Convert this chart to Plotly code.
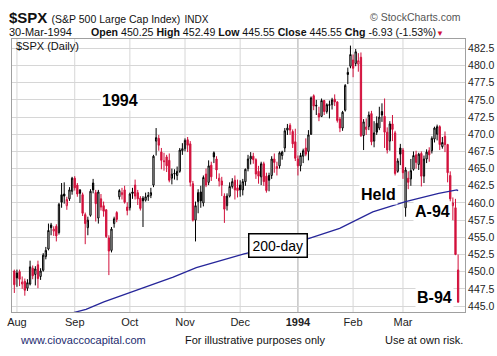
import pandas as pd
import plotly.graph_objects as go

# ---------------- data ----------------
holidays = ["1993-09-06", "1993-11-25", "1993-12-24", "1994-02-21"]
dates = [d for d in pd.bdate_range("1993-07-30", "1994-03-30")
         if d.strftime("%Y-%m-%d") not in holidays]

open_ = [450.1,
         # Aug
         449.8, 450.0, 448.2, 448.6, 447.6, 448.2, 450.5, 449.6, 451.0, 449.3, 450.2,
         452.2, 453.3, 456.8, 455.9, 456.6, 455.7, 461.2, 461.3, 459.6, 460.6, 461.7,
         # Sep
         463.6, 462.6, 461.9, 461.2, 458.3, 456.4, 458.2, 462.9, 461.5, 457.8, 460.6,
         459.6, 459.0, 454.9, 453.1, 457.0, 458.6, 460.9, 461.2, 461.9, 459.4,
         # Oct
         459.3, 461.6, 462.6, 461.5, 460.7, 460.7, 460.4, 460.9, 461.1, 462.6, 469.0,
         469.4, 467.4, 466.0, 466.7, 466.2, 463.6, 464.2, 464.0, 464.6, 467.6,
         # Nov
         467.9, 469.2, 468.6, 462.8, 457.5, 461.5, 461.6, 460.0, 464.2, 463.0, 465.5,
         467.3, 466.4, 463.2, 463.2, 461.0, 459.6, 461.0, 462.4, 463.3, 462.2,
         # Dec
         462.6, 461.9, 463.1, 465.0, 466.4, 466.8, 466.3, 464.6, 463.8, 465.7, 463.9,
         464.0, 464.0, 466.4, 465.0, 465.4, 466.9, 468.0, 470.6, 471.3, 470.4, 468.9,
         # Jan
         466.4, 465.4, 466.8, 468.0, 467.5, 470.0, 475.6, 474.1, 473.0, 472.6, 474.9,
         473.3, 474.2, 474.3, 475.1, 474.7, 472.2, 470.9, 473.5, 479.0, 479.9,
         # Feb
         480.8, 480.3, 480.2, 481.2, 469.8, 470.7, 471.1, 473.0, 469.0, 471.6, 470.9,
         473.3, 472.6, 470.3, 469.0, 471.5, 470.2, 464.6, 468.0,
         # Mar
         467.7, 459.3, 463.6, 463.5, 464.9, 467.0, 465.6, 467.2, 463.9, 466.4, 467.6,
         467.6, 469.3, 470.0, 471.1, 468.2, 469.7, 468.5, 464.0, 459.6, 459.3, 450.25]

high = [450.3,
        450.3, 450.3, 449.3, 449.0, 448.9, 451.6, 450.9, 450.8, 451.6, 450.5, 452.7,
        453.6, 457.0, 457.1, 456.6, 456.9, 460.0, 462.9, 463.0, 460.9, 462.3, 463.8,
        463.9, 462.9, 462.0, 461.5, 458.6, 458.0, 462.0, 463.5, 461.9, 461.9, 461.3,
        460.2, 459.1, 455.3, 456.5, 458.0, 458.8, 462.0, 462.2, 462.5, 460.1,
        461.5, 462.2, 463.4, 461.9, 461.0, 461.0, 461.5, 461.6, 462.2, 467.0, 470.9,
        469.9, 468.0, 467.3, 467.0, 467.2, 465.0, 464.9, 465.3, 468.0, 468.7,
        469.4, 469.6, 469.0, 463.2, 460.2, 462.0, 462.5, 464.0, 465.0, 466.2, 466.0,
        467.5, 466.8, 464.3, 463.8, 461.4, 461.4, 463.0, 463.6, 464.0, 463.4,
        463.3, 463.5, 465.0, 467.0, 467.4, 467.3, 466.5, 465.4, 466.0, 466.0, 464.4,
        464.4, 466.8, 467.2, 466.0, 467.5, 467.6, 470.9, 471.5, 471.6, 470.7, 470.8,
        466.9, 467.3, 467.9, 469.4, 470.6, 475.5, 475.8, 475.0, 474.0, 475.2, 475.0,
        474.5, 474.9, 475.3, 475.8, 474.8, 472.5, 473.4, 477.3, 479.7, 482.9,
        481.6, 482.4, 481.8, 481.9, 472.2, 472.3, 473.3, 473.4, 471.9, 472.6, 474.0,
        474.5, 475.2, 471.0, 471.9, 472.8, 470.5, 466.5, 468.6,
        468.0, 465.2, 464.6, 466.4, 467.5, 467.6, 467.3, 467.5, 466.9, 467.8, 468.1,
        469.7, 471.1, 471.4, 471.3, 469.6, 470.4, 468.6, 464.6, 460.8, 460.6, 452.49]

low = [446.9,
       447.8, 447.9, 447.5, 446.5, 447.2, 448.0, 448.9, 448.0, 447.6, 448.8, 450.0,
       451.8, 453.1, 455.3, 455.2, 454.4, 455.4, 459.3, 459.9, 459.0, 460.3, 461.2,
       461.8, 460.9, 460.0, 458.1, 454.0, 455.3, 458.0, 461.4, 457.3, 457.0, 458.9,
       458.0, 454.9, 449.5, 452.8, 456.4, 457.2, 460.5, 460.5, 459.9, 458.2,
       458.9, 460.6, 460.5, 459.7, 458.9, 456.5, 460.2, 460.3, 460.7, 462.3, 466.9,
       467.6, 464.9, 464.7, 464.5, 463.0, 462.7, 463.4, 463.3, 464.4, 467.0,
       467.5, 467.4, 462.4, 457.3, 454.4, 458.5, 459.3, 459.5, 462.3, 462.6, 463.2,
       465.8, 463.5, 462.4, 461.0, 457.1, 458.9, 460.8, 462.1, 460.5, 460.8,
       460.9, 461.1, 462.5, 464.6, 465.6, 465.7, 463.5, 462.8, 462.6, 462.5, 461.5,
       461.7, 463.5, 464.4, 464.0, 465.0, 466.3, 467.4, 469.9, 469.9, 468.0, 466.1,
       464.0, 464.6, 465.8, 466.8, 466.2, 469.9, 473.5, 472.8, 471.9, 472.5, 472.8,
       473.0, 472.3, 473.6, 474.1, 471.7, 470.3, 470.5, 473.3, 477.3, 479.6,
       478.3, 479.9, 479.1, 469.6, 467.7, 469.9, 470.6, 468.4, 468.1, 469.9, 470.6,
       471.8, 468.0, 467.2, 467.6, 469.0, 464.0, 464.4, 465.5,
       463.5, 458.0, 462.0, 462.5, 464.7, 465.0, 464.8, 462.4, 462.9, 465.8, 466.0,
       467.2, 468.8, 469.1, 467.7, 467.9, 467.4, 463.0, 460.2, 457.5, 452.4, 445.55]

close = [448.1,
         449.1, 448.9, 448.5, 447.3, 448.4, 450.7, 449.4, 450.4, 449.0, 450.1, 452.4,
         453.1, 456.0, 456.4, 456.2, 455.2, 459.8, 460.1, 461.0, 460.5, 461.9, 463.6,
         462.2, 461.3, 461.4, 458.5, 457.0, 457.5, 461.7, 461.9, 459.9, 461.6, 459.4,
         458.8, 455.1, 453.0, 456.2, 457.7, 457.6, 461.8, 461.5, 460.1, 458.9,
         461.3, 461.4, 461.0, 460.6, 459.2, 460.3, 460.9, 461.1, 461.5, 466.8, 469.5,
         468.4, 466.2, 466.1, 465.4, 463.3, 464.2, 464.3, 464.6, 467.7, 467.9,
         469.1, 468.4, 463.0, 457.5, 459.6, 460.2, 460.3, 463.7, 462.6, 465.4, 463.8,
         466.7, 464.8, 463.6, 462.6, 459.1, 461.0, 462.4, 463.1, 461.9, 461.8,
         461.9, 463.1, 464.9, 466.4, 466.8, 466.3, 464.2, 463.9, 465.7, 463.1, 461.8,
         463.3, 466.4, 465.9, 465.3, 467.3, 467.4, 470.5, 470.9, 470.6, 468.6, 466.5,
         465.4, 466.9, 467.6, 467.1, 469.9, 475.3, 474.1, 474.2, 472.5, 474.9, 473.3,
         474.3, 474.3, 475.0, 474.7, 472.0, 470.9, 473.2, 477.1, 478.7, 481.6,
         479.6, 482.0, 480.7, 469.8, 471.8, 471.05, 472.8, 468.9, 470.2, 470.3, 472.5,
         472.8, 470.3, 467.7, 471.5, 470.7, 464.3, 466.1, 467.1,
         464.4, 464.8, 463.0, 464.7, 466.9, 465.9, 467.1, 463.9, 466.4, 467.4, 467.0,
         469.4, 470.9, 471.1, 468.5, 468.8, 468.5, 464.4, 460.6, 460.0, 452.5, 445.55]

# 200-day moving average, read at a few bar positions
ma_pos = [19, 27.3, 34.1, 46.7, 56.7, 60.5, 69.3, 87.5, 112, 123.9, 136.5, 149, 161.6, 168.5, 169]
ma_val = [443.7, 444.5, 445.6, 447.3, 448.6, 449.2, 450.6, 452.6, 454.8, 456.3, 458.7, 460.2, 461.4, 461.9, 461.8]

month_labels = ["Aug", "Sep", "Oct", "Nov", "Dec", "<b>1994</b>", "Feb", "Mar"]
y_ticks = [445.0 + 2.5 * k for k in range(16)]

# ---------------- geometry ----------------
FW, FH = 497, 356
PL, PR, PT, PB = 7, 465, 39, 312
def fx(x):
    return (x - PL) / (PR - PL)
def fy(y):
    return (PB - y) / (PB - PT)

RED = "#d2113c"
FONT = "Liberation Sans, Arial, sans-serif"

n = len(close)
idx = list(range(n))
prev = [open_[0]] + close[:-1]
up = [c >= p for c, p in zip(close, prev)]

def sub(arr, flag):
    return [a for a, u in zip(arr, up) if u == flag]

fig = go.Figure()
fig.add_trace(go.Candlestick(
    x=sub(idx, True), open=sub(open_, True), high=sub(high, True),
    low=sub(low, True), close=sub(close, True),
    increasing=dict(line=dict(color="black", width=1), fillcolor="white"),
    decreasing=dict(line=dict(color="black", width=1), fillcolor="black"),
    whiskerwidth=0, showlegend=False, hoverinfo="skip"))
fig.add_trace(go.Candlestick(
    x=sub(idx, False), open=sub(open_, False), high=sub(high, False),
    low=sub(low, False), close=sub(close, False),
    increasing=dict(line=dict(color=RED, width=1), fillcolor="white"),
    decreasing=dict(line=dict(color=RED, width=1), fillcolor=RED),
    whiskerwidth=0, showlegend=False, hoverinfo="skip"))
fig.add_trace(go.Scatter(x=ma_pos, y=ma_val, mode="lines",
                         line=dict(color="#26269a", width=1.3),
                         showlegend=False, hoverinfo="skip"))

# first trading day of each month (Aug 2 is index 1)
month_idx = [i for i in range(1, n) if i == 1 or dates[i].month != dates[i - 1].month]

shapes = []
for k, mi in enumerate(month_idx):
    col = "#a8a8a8" if month_labels[k] == "<b>1994</b>" else "#d6d6d6"
    shapes.append(dict(type="line", xref="x", yref="paper", x0=mi, x1=mi, y0=0, y1=1,
                       line=dict(color=col, width=1), layer="below"))

bar_px = 2.655
x_lo = 1 - (12 - PL) / bar_px
x_hi = 1 + (PR - 12) / bar_px

fig.update_layout(
    width=FW, height=FH,
    margin=dict(l=PL, r=FW - PR, t=PT, b=FH - PB),
    paper_bgcolor="white", plot_bgcolor="white",
    font=dict(family=FONT, size=11, color="#222"),
    shapes=shapes,
    xaxis=dict(range=[x_lo, x_hi], rangeslider=dict(visible=False),
               tickmode="array", tickvals=month_idx, ticktext=month_labels,
               showgrid=False, zeroline=False, ticks="",
               showline=True, linecolor="#a0a0a0", linewidth=1, mirror=True,
               tickfont=dict(size=11, color="#222")),
    yaxis=dict(side="right", range=[444.13, 483.86], tickmode="array",
               tickvals=y_ticks, ticktext=["%.1f" % v for v in y_ticks],
               showgrid=True, gridcolor="#d6d6d6", gridwidth=1, zeroline=False,
               showline=True, linecolor="#a0a0a0", linewidth=1, mirror=True,
               ticks="", automargin=False,
               tickfont=dict(size=10.5, color="#222")),
)

ann = []
def text(x, y, s, size=11, color="#111", xanchor="left", **kw):
    ann.append(dict(xref="paper", yref="paper", x=fx(x), y=fy(y), text=s, showarrow=False,
                    xanchor=xanchor, yanchor="middle",
                    font=dict(family=FONT, size=size, color=color), **kw))

text(1.5, 17, "<b>$SPX</b> <span style='font-size:10.5px'>(S&P 500 Large Cap Index)</span>"
     " <span style='font-size:10px'>INDX</span>", size=15)
text(463, 17, "© StockCharts.com", size=10.5, color="#555", xanchor="right")
text(2, 32, "30-Mar-1994", size=11)
text(85, 32, "<b>Open</b> 450.25 <b>High</b> 452.49 <b>Low</b> 445.55 <b>Close</b> 445.55 "
     "<b>Chg</b> -6.93 (-1.53%)<span style='color:" + RED + ";font-size:8px'>▼</span>", size=10.6)
text(9, 46, "$SPX (Daily)", size=11)
text(116, 100, "<b>1994</b>", size=16, color="black", xanchor="center", bgcolor="white")
text(378, 194, "<b>Held</b>", size=16, color="black", xanchor="center", bgcolor="white")
text(432, 211, "<b>A-94</b>", size=16, color="black", xanchor="center", bgcolor="white")
text(434, 297, "<b>B-94</b>", size=16, color="black", xanchor="center", bgcolor="white")
text(275.5, 245.5, "200-day", size=14, color="black", xanchor="center", bgcolor="white",
     bordercolor="black", borderwidth=1.5, borderpad=3)
text(13, 340, "www.ciovaccocapital.com", size=11, color="#1c2a6e")
text(253.5, 340, "For illustrative purposes only", size=11, color="#111", xanchor="center")
text(465, 340, "Use at own risk.", size=11, color="#111", xanchor="right")
fig.update_layout(annotations=ann)

fig.write_html("out.html", config={"displayModeBar": False},
               post_script="document.body.style.margin='0';document.body.style.overflow='hidden';")
